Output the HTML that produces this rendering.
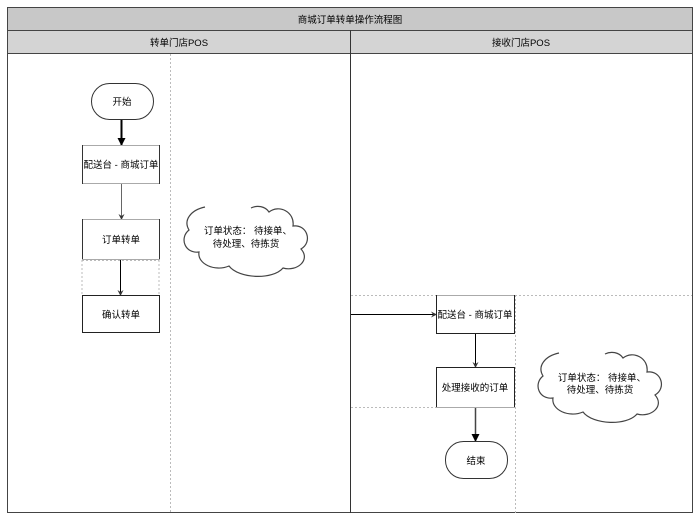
<!DOCTYPE html>
<html><head><meta charset="utf-8"><style>
html,body{margin:0;padding:0;background:#fff;width:700px;height:522px;overflow:hidden}
svg text{font-family:"Liberation Sans","Noto Sans CJK SC",sans-serif;font-size:9.5px;fill:#000}
</style></head><body>
<svg width="700" height="522" viewBox="0 0 700 522" xmlns="http://www.w3.org/2000/svg">
<defs>
<marker id="a" markerWidth="8" markerHeight="8" refX="7" refY="4" orient="auto" markerUnits="userSpaceOnUse"><path d="M0,0 L8,4 L0,8 z" fill="#000"/></marker>
<marker id="s" markerWidth="6" markerHeight="6" refX="5" refY="3" orient="auto" markerUnits="userSpaceOnUse"><path d="M0,0 L6,3 L0,6 L2,3 z" fill="#333"/></marker>
</defs>
<rect x="0" y="0" width="700" height="522" fill="#fff"/>
<rect x="7.5" y="7.5" width="685" height="23" fill="#c8c8c8" stroke="#444"/>
<text x="350" y="23" text-anchor="middle">商城订单转单操作流程图</text>
<rect x="7.5" y="30.5" width="685" height="23" fill="#d4d4d4" stroke="#444"/>
<text x="179" y="46" text-anchor="middle">转单门店POS</text>
<text x="521" y="46" text-anchor="middle">接收门店POS</text>
<rect x="7.5" y="7.5" width="685" height="505" fill="none" stroke="#444"/>
<line x1="350.5" y1="30" x2="350.5" y2="513" stroke="#333"/>
<g stroke="#bbb" stroke-dasharray="2,2" fill="none">
<line x1="170.5" y1="54" x2="170.5" y2="513"/>
<line x1="351" y1="295.5" x2="692" y2="295.5"/>
<line x1="515.5" y1="295" x2="515.5" y2="513"/>
<line x1="351" y1="407.5" x2="515" y2="407.5"/>
<line x1="82" y1="260.5" x2="159" y2="260.5"/>
<line x1="82" y1="260" x2="82" y2="295"/>
<line x1="159" y1="260" x2="159" y2="295"/>
</g>
<rect x="91.5" y="83.5" width="62" height="36" rx="18" fill="#fff" stroke="#333"/>
<text x="122" y="105" text-anchor="middle">开始</text>
<line x1="121.5" y1="120" x2="121.5" y2="145" stroke="#000" stroke-width="2" marker-end="url(#a)"/>
<rect x="82.5" y="145.5" width="77" height="38" fill="#fff" stroke="#aaa"/>
<line x1="82.5" y1="145" x2="82.5" y2="184" stroke="#333"/>
<line x1="159.5" y1="145" x2="159.5" y2="184" stroke="#333"/>
<text x="121" y="168" text-anchor="middle">配送台 - 商城订单</text>
<line x1="121.5" y1="184" x2="121.5" y2="219" stroke="#666" marker-end="url(#s)"/>
<rect x="82.5" y="219.5" width="77" height="40" fill="#fff" stroke="#aaa"/>
<line x1="82.5" y1="219" x2="82.5" y2="259" stroke="#333"/>
<line x1="159.5" y1="219" x2="159.5" y2="259" stroke="#333"/>
<text x="121" y="243" text-anchor="middle">订单转单</text>
<line x1="120.5" y1="260" x2="120.5" y2="295" stroke="#000" marker-end="url(#s)"/>
<rect x="82.5" y="295.5" width="77" height="37" fill="#fff" stroke="#222"/>
<text x="121" y="318" text-anchor="middle">确认转单</text>
<g transform="translate(181,202)">
<path d="M24,5 C10,8 2,18 8,28 C-2,36 4,52 18,50 C16,62 34,70 48,64 C58,77 92,78 102,66 C116,70 130,58 120,47 C132,40 126,22 112,24 C114,10 98,2 88,10 C84,4 76,3 70,6" fill="#fff" stroke="#444" stroke-width="1.2"/>
<text x="67" y="32" text-anchor="middle">订单状态：  待接单、</text>
<text x="65" y="45" text-anchor="middle">待处理、待拣货</text>
</g>
<line x1="351" y1="314.5" x2="436" y2="314.5" stroke="#000" marker-end="url(#s)"/>
<rect x="436.5" y="295.5" width="78" height="38" fill="#fff" stroke="#aaa"/>
<line x1="436.5" y1="295" x2="436.5" y2="334" stroke="#222"/>
<line x1="514.5" y1="295" x2="514.5" y2="334" stroke="#222"/>
<line x1="436" y1="333.5" x2="515" y2="333.5" stroke="#222"/>
<text x="475" y="318" text-anchor="middle">配送台 - 商城订单</text>
<line x1="475.5" y1="334" x2="475.5" y2="367" stroke="#000" marker-end="url(#s)"/>
<rect x="436.5" y="367.5" width="78" height="40" fill="#fff" stroke="#aaa"/>
<line x1="436.5" y1="367" x2="436.5" y2="407" stroke="#222"/>
<line x1="514.5" y1="367" x2="514.5" y2="407" stroke="#222"/>
<line x1="436" y1="367.5" x2="515" y2="367.5" stroke="#222"/>
<text x="475" y="391" text-anchor="middle">处理接收的订单</text>
<line x1="475.5" y1="408" x2="475.5" y2="441" stroke="#444" stroke-width="1.5" marker-end="url(#a)"/>
<rect x="445.5" y="441.5" width="62" height="37" rx="18" fill="#fff" stroke="#333"/>
<text x="476" y="464" text-anchor="middle">结束</text>
<g transform="translate(535,348)">
<path d="M24,5 C10,8 2,18 8,28 C-2,36 4,52 18,50 C16,62 34,70 48,64 C58,77 92,78 102,66 C116,70 130,58 120,47 C132,40 126,22 112,24 C114,10 98,2 88,10 C84,4 76,3 70,6" fill="#fff" stroke="#444" stroke-width="1.2"/>
<text x="67" y="33" text-anchor="middle">订单状态：  待接单、</text>
<text x="65" y="45" text-anchor="middle">待处理、待拣货</text>
</g>
</svg>
</body></html>
